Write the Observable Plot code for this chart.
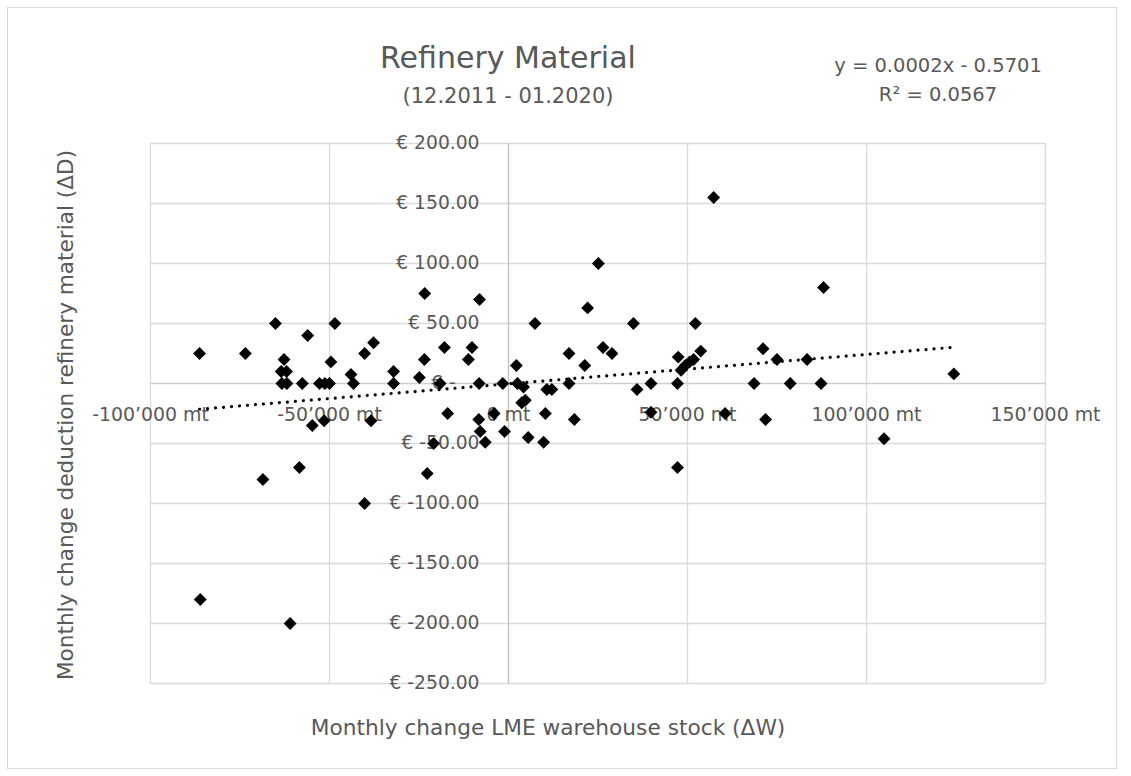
<!DOCTYPE html>
<html>
<head>
<meta charset="utf-8">
<script src="https://cdn.jsdelivr.net/npm/d3@7"></script>
<script src="https://cdn.jsdelivr.net/npm/@observablehq/plot@0.6"></script>
<style>
  html, body { margin: 0; padding: 0; background: #fff; }
  #chart { position: relative; width: 1131px; height: 776px; background: #fff; font-family: "DejaVu Sans", sans-serif; color: #595959; overflow: hidden; }
  #frame { position: absolute; left: 7px; top: 7px; width: 1110px; height: 762px; border: 1px solid #d9d9d9; box-sizing: border-box; }
  #plot { position: absolute; left: 0; top: 0; }
  .t { position: absolute; text-align: center; white-space: nowrap; }
</style>
</head>
<body>
<div id="chart">
  <div id="frame"></div>
  <div id="plot"></div>
  <div class="t" id="title" style="left:0;width:1016px;top:42.6px;font-size:30px;line-height:30px;"></div>
  <div class="t" id="subtitle" style="left:0;width:1016px;top:85.5px;font-size:21px;line-height:21px;"></div>
  <div class="t" id="eq1" style="left:738px;width:400px;top:55.5px;font-size:19.5px;line-height:19.5px;"></div>
  <div class="t" id="eq2" style="left:738px;width:400px;top:84.5px;font-size:19.5px;line-height:19.5px;"></div>
  <div class="t" id="xtitle" style="left:248px;width:600px;top:717.4px;font-size:21.7px;line-height:21.7px;"></div>
  <div class="t" id="ytitle" style="left:-234px;width:600px;top:403.6px;height:22px;font-size:21.6px;line-height:22px;transform:rotate(-90deg);transform-origin:50% 50%;"></div>
</div>
<script>
// ---- Data: monthly change LME warehouse stock (ΔW, mt) vs deduction change (ΔD, €) ----
const deltaW = [
  -86300, -73500, -65100, -56100, -48500, -62700, -63500, -62000, -63300, -61900,
  -57600, -52800, -51300, -50000, -49600, -44000, -43300, -40200, -37700, -54800,
  -51500, -38400, -58400, -68600, -86100, -61000, -40200, -22700, -32100, -32100,
  -23400, -23500, -24900, -19100, -17900, -17000, -11200, -10200, -8100, -8200,
  -8300, -7900, -6500, -20900, -1600, -1100, -4000, 2200, 2500, 4200,
  4700, 3700, 5500, 9800, 10300, 7400, 10700, 12100, 16900, 16900,
  18400, 21300, 22100, 25100, 26400, 28900, 34900, 35900, 39800, 39800,
  47400, 47200, 48200, 49400, 50600, 51700, 52200, 53700, 60500, 88000,
  57300, 71100, 68600, 71800, 75000, 78700, 83400, 87300, 47200, 124400,
  104900
];
const deltaD = [
  25, 25, 50, 40, 50, 20, 10, 10, 0, 0,
  0, 0, 0, 0, 18, 7.5, 0, 25, 34, -35,
  -31, -31, -70, -80, -180, -200, -100, -75, 10, 0,
  75, 20, 5, 0, 30, -25, 20, 30, 70, 0,
  -30, -40, -49, -50, 0, -40, -25, 15, 0, -3,
  -14, -16, -45, -49, -25, 50, -5, -5, 25, 0,
  -30, 15, 63, 100, 30, 25, 50, -5, 0, -24,
  22, 0, 11, 15, 18, 20, 50, 27, -25, 80,
  155, 29, 0, -30, 20, 0, 20, 0, -70, 8,
  -46
];
const xTicks = [-100000, -50000, 0, 50000, 100000, 150000];
const yTicks = [200, 150, 100, 50, 0, -50, -100, -150, -200, -250];

const titleText = "Refinery Material";
const subtitleText = "(12.2011 - 01.2020)";
const eqText = "y = 0.0002x - 0.5701";
const r2Text = "R² = 0.0567";
const xTitleText = "Monthly change LME warehouse stock (ΔW)";
const yTitleText = "Monthly change deduction refinery material (ΔD)";

// ---- Build ----
const points = deltaW.map((w, i) => ({w, d: deltaD[i]}));
const loc = d3.formatLocale({decimal: ".", thousands: "’", grouping: [3], currency: ["€", ""], minus: "-"});
const fmtX = v => v === 0 ? "0 mt" : loc.format(",d")(v) + " mt";
const fmtY = v => v === 0 ? "€ -\u2007\u2007" : "€ " + v.toFixed(2);

const grey = "#595959";
const chart = Plot.plot({
  width: 1131,
  height: 776,
  marginTop: 143,
  marginBottom: 93,
  marginLeft: 150,
  marginRight: 86,
  x: {domain: [-100000, 150000], axis: null},
  y: {domain: [-250, 200], axis: null},
  style: {background: "transparent", fontFamily: "'DejaVu Sans', sans-serif"},
  marks: [
    Plot.ruleX(xTicks.filter(v => v !== 0), {x: d => d, stroke: "#d9d9d9", strokeWidth: 1.3}),
    Plot.ruleY(yTicks.filter(v => v !== 0), {y: d => d, stroke: "#d9d9d9", strokeWidth: 1.3}),
    Plot.ruleY([0], {y: d => d, stroke: "#cfcfcf", strokeWidth: 1.3}),
    Plot.ruleX([0], {x: d => d, stroke: "#bfbfbf", strokeWidth: 1.3}),
    Plot.text(yTicks, {x: () => 0, y: d => d, text: fmtY, dx: -29, textAnchor: "end", fill: grey, fontSize: 18.7}),
    Plot.text(xTicks, {x: d => d, y: () => 0, text: fmtX, dy: 31, textAnchor: "middle", fill: grey, fontSize: 18.9}),
    Plot.dot(points, {x: "w", y: "d", symbol: "diamond2", r: 5.8, fill: "black"}),
    Plot.linearRegressionY(points, {x: "w", y: "d", ci: 0, stroke: "black", strokeWidth: 3.2, strokeDasharray: "0.01 8", strokeLinecap: "round"})
  ]
});
document.getElementById("plot").appendChild(chart);
document.getElementById("title").textContent = titleText;
document.getElementById("subtitle").textContent = subtitleText;
document.getElementById("eq1").textContent = eqText;
document.getElementById("eq2").textContent = r2Text;
document.getElementById("xtitle").textContent = xTitleText;
document.getElementById("ytitle").textContent = yTitleText;
</script>
</body>
</html>
